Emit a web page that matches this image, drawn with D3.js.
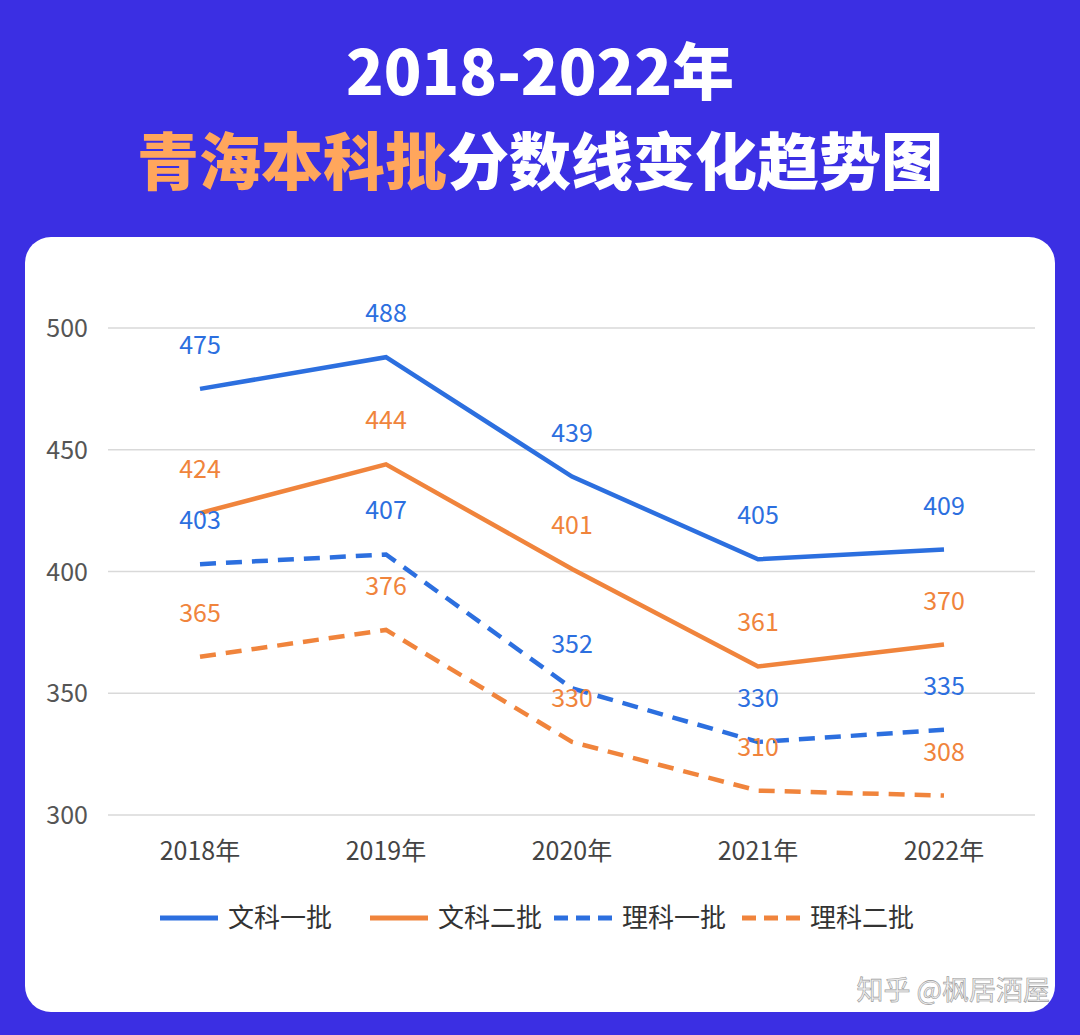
<!DOCTYPE html>
<html><head><meta charset="utf-8">
<script src="https://cdn.jsdelivr.net/npm/d3@7"></script>
<style>body{margin:0;background:#3b2fe3;}svg{display:block;}</style>
</head><body>
<div id="vis"></div>
<script>
const years = ["2018年", "2019年", "2020年", "2021年", "2022年"];
const seriesNames = ["文科一批", "文科二批", "理科一批", "理科二批"];
const wenke1 = [475, 488, 439, 405, 409];
const wenke2 = [424, 444, 401, 361, 370];
const like1 = [403, 407, 352, 330, 335];
const like2 = [365, 376, 330, 310, 308];
const yTicks = [300, 350, 400, 450, 500];

const BLUE = "#2c6fdf", ORANGE = "#f0843c";
const series = [
  {name: seriesNames[0], values: wenke1, color: BLUE, dash: null},
  {name: seriesNames[1], values: wenke2, color: ORANGE, dash: null},
  {name: seriesNames[2], values: like1, color: BLUE, dash: "16,10"},
  {name: seriesNames[3], values: like2, color: ORANGE, dash: "16,10"}
];

const font = "'Noto Sans CJK SC', 'Noto Sans', sans-serif";
const svg = d3.select("#vis").append("svg").attr("width", 1080).attr("height", 1035);
svg.append("rect").attr("width", 1080).attr("height", 1035).attr("fill", "#3b2fe3");

// title
svg.append("text").attr("x", 540).attr("y", 95).attr("text-anchor", "middle")
  .attr("font-family", font).attr("font-weight", 900).attr("font-size", 62)
  .attr("fill", "#fff").text("2018-2022年");
const t2 = svg.append("text").attr("x", 540).attr("y", 185).attr("text-anchor", "middle")
  .attr("font-family", font).attr("font-weight", 900).attr("font-size", 62);
t2.append("tspan").attr("fill", "#ffa65c").text("青海本科批");
t2.append("tspan").attr("fill", "#fff").text("分数线变化趋势图");

// panel
svg.append("rect").attr("x", 25).attr("y", 237).attr("width", 1030).attr("height", 775)
  .attr("rx", 26).attr("fill", "#fff");

const x = d3.scalePoint().domain(years).range([200, 944]);
const y = d3.scaleLinear().domain([300, 500]).range([815, 328]);

const g = svg.append("g");
g.selectAll("line.grid").data(yTicks).enter().append("line")
  .attr("x1", 108).attr("x2", 1035).attr("y1", d => y(d)).attr("y2", d => y(d))
  .attr("stroke", "#d9d9d9").attr("stroke-width", 1.5);
g.selectAll("text.yl").data(yTicks).enter().append("text")
  .attr("x", 88).attr("y", d => y(d) + 9).attr("text-anchor", "end")
  .attr("font-family", font).attr("font-size", 25).attr("fill", "#555").text(d => d);
g.selectAll("text.xl").data(years).enter().append("text")
  .attr("x", d => x(d)).attr("y", 860).attr("text-anchor", "middle")
  .attr("font-family", font).attr("font-size", 25).attr("fill", "#444").text(d => d);

const line = d3.line().x((d, i) => x(years[i])).y(d => y(d));
series.forEach(s => {
  g.append("path").attr("d", line(s.values)).attr("fill", "none")
    .attr("stroke", s.color).attr("stroke-width", 4.5)
    .attr("stroke-dasharray", s.dash);
  g.selectAll(null).data(s.values).enter().append("text")
    .attr("x", (d, i) => x(years[i])).attr("y", d => y(d) - 35)
    .attr("text-anchor", "middle").attr("font-family", font).attr("font-size", 25)
    .attr("fill", s.color).text(d => d);
});

// legend
const legX = [160, 370, 554, 742];
series.forEach((s, i) => {
  const lx = legX[i];
  g.append("line").attr("x1", lx).attr("x2", lx + 58).attr("y1", 918).attr("y2", 918)
    .attr("stroke", s.color).attr("stroke-width", 5).attr("stroke-dasharray", s.dash ? "14,8" : null);
  g.append("text").attr("x", lx + 68).attr("y", 927).attr("font-family", font)
    .attr("font-size", 26).attr("fill", "#333").text(s.name);
});

svg.append("text").attr("x", 1050).attr("y", 1000).attr("text-anchor", "end")
  .attr("font-family", font).attr("font-size", 27).attr("fill", "#eee")
  .attr("stroke", "#999").attr("stroke-width", 0.6).text("知乎 @枫居酒屋");
</script>
</body></html>
